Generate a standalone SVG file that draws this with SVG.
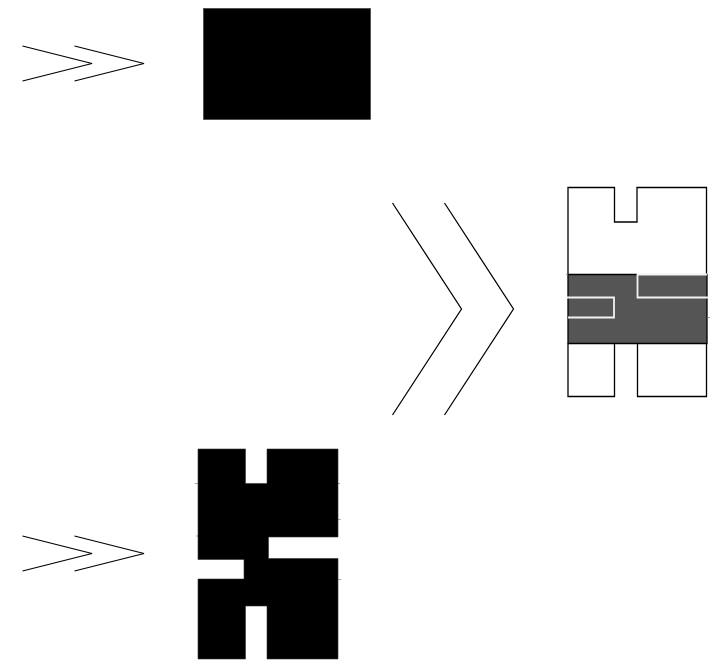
<svg xmlns="http://www.w3.org/2000/svg" width="711" height="664" viewBox="0 0 711 664">
<style>
.line{fill:none;stroke:#000;stroke-width:1.25}
.black{fill:#000;stroke:#333;stroke-width:.6}
.tick{fill:none;stroke:#777;stroke-width:.7}
.ink{fill:none;stroke:#000;stroke-width:1.3}
.white{fill:none;stroke:#f2f2f2;stroke-width:1.8}
</style>
<rect width="711" height="664" fill="#fff"/>
<g id="chevrons-top" class="line">
<path d="M22.500 46 L92 63.500 L22.500 81"/>
<path d="M74.500 46 L144 63.500 L74.500 81"/>
</g>
<g id="block-solid"><rect class="black" x="203.500" y="8.500" width="167" height="111"/></g>
<g id="chevrons-middle" class="line">
<path d="M392.500 203 L461.500 309 L392.500 415"/>
<path d="M444.500 203 L513.500 309 L444.500 415"/>
</g>
<g id="block-outline">
<rect x="568" y="274" width="139" height="69.500" fill="#555"/>
<path class="ink" d="M568 274 V187.500 H614.500 V222 H637 V187.500 H706.500 V274"/>
<path class="ink" d="M568 274.500 H637"/>
<path class="ink" d="M568 274 V343.500 H707 V274"/>
<path class="ink" d="M568 343.500 V396.500 H614.500 V343.500 M637.500 343.500 V396.500 H706.500 V343.500"/>
<path class="white" d="M707 274.500 H637.500 V297.500 H708"/>
<path class="white" d="M567 297.500 H614 V317.500 H568"/>
<path class="tick" d="M566 274.500 H568 M707 317.500 H710"/>
</g>
<g id="chevrons-bottom" class="line">
<path d="M22.500 536 L92 553.500 L22.500 571"/>
<path d="M74.500 536 L144 553.500 L74.500 571"/>
</g>
<g id="block-slotted">
<path class="black" d="M198 449 H245.500 V483.500 H267 V449 H338 V537 H268.500 V558.500 H338 V659 H267 V606 H245.500 V659 H198 V579 H244 V559.500 H198 Z"/>
<path class="tick" d="M195 483.500 H198 M196 536 H198 M338 483.500 H340 M338 519.500 H340.500 M338 579.500 H341"/>
</g>
</svg>
